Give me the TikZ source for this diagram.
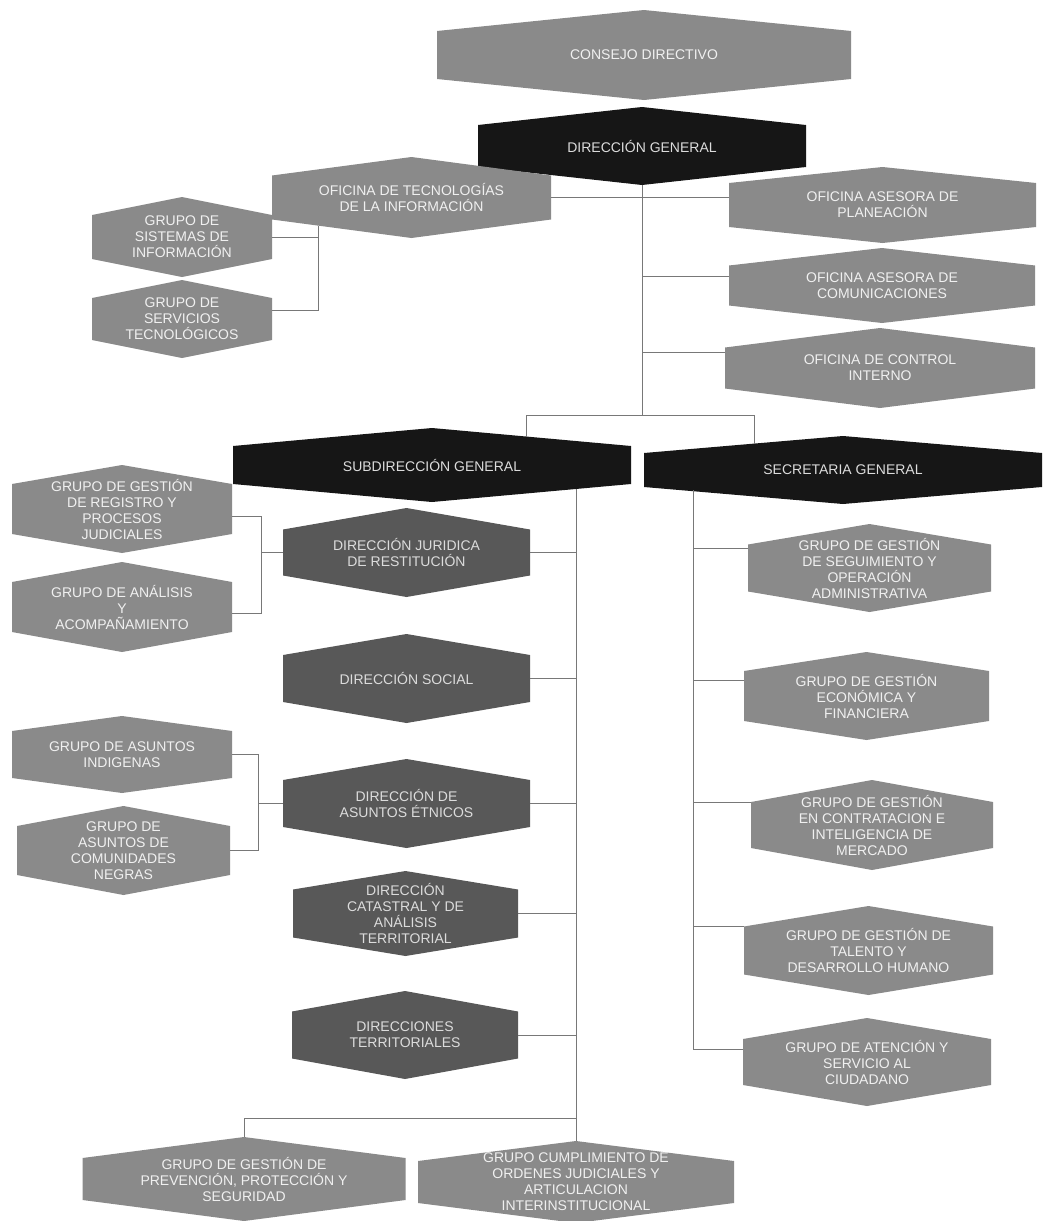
\documentclass[tikz,border=0pt]{standalone}
\usepackage{fontspec}
\setmainfont{Liberation Sans}
\usetikzlibrary{calc}
\definecolor{cL}{RGB}{138,138,138}
\definecolor{cD}{RGB}{88,88,88}
\definecolor{cB}{RGB}{22,22,22}
\definecolor{tL}{RGB}{240,240,240}
\definecolor{tD}{RGB}{220,220,220}
\definecolor{ln}{RGB}{120,120,120}
\newcommand\hexnode[9]{%
  \fill[#7] ({#2-#4},{#3-#6}) -- (#2,{#3-#5}) -- ({#2+#4},{#3-#6}) -- ({#2+#4},{#3+#6}) -- (#2,{#3+#5}) -- ({#2-#4},{#3+#6}) -- cycle;
  \node[lab,text=#8,minimum width=2*#4pt,minimum height=2*#5pt] (#1) at (#2,#3) {#9};
}
\tikzset{
  lab/.style={inner sep=0pt, align=center, font=\fontsize{14}{16}\selectfont},
  conn/.style={draw=ln, line width=0.8pt}
}
\begin{document}
\begin{tikzpicture}[x=1pt,y=-1pt]
\fill[white] (0,0) rectangle (1042,1221);
\useasboundingbox (0,0) rectangle (1042,1221);

% top
\hexnode{consejo}{644}{55}{207}{45}{24}{cL}{tL}{CONSEJO DIRECTIVO}
\hexnode{dg}{642}{146}{164}{39}{21}{cB}{tD}{DIRECCIÓN GENERAL}
\hexnode{otec}{411.5}{197.5}{139.5}{40.5}{22}{cL}{tL}{OFICINA DE TECNOLOGÍAS\\DE LA INFORMACIÓN}
\hexnode{gsis}{182}{237}{90}{40}{22}{cL}{tL}{GRUPO DE\\SISTEMAS DE\\INFORMACIÓN}
\hexnode{gserv}{182}{319}{90}{39}{21}{cL}{tL}{GRUPO DE\\SERVICIOS\\TECNOLÓGICOS}
\hexnode{oplan}{882.5}{205}{153.5}{38}{22}{cL}{tL}{OFICINA ASESORA DE\\PLANEACIÓN}
\hexnode{ocom}{882}{285.5}{153}{37.5}{20}{cL}{tL}{OFICINA ASESORA DE\\COMUNICACIONES}
\hexnode{ocon}{880}{368}{155}{40}{20.5}{cL}{tL}{OFICINA DE CONTROL\\INTERNO}

% second level
\hexnode{subdir}{432}{465}{199}{37}{19}{cB}{tD}{SUBDIRECCIÓN GENERAL}
\hexnode{secgen}{843}{470}{199}{34}{17}{cB}{tD}{SECRETARIA GENERAL}

% subdireccion column
\hexnode{djur}{406.5}{552.5}{123.5}{44.5}{23}{cD}{tD}{DIRECCIÓN JURIDICA\\DE RESTITUCIÓN}
\hexnode{dsoc}{406.5}{678.5}{123.5}{44.5}{23.5}{cD}{tD}{DIRECCIÓN SOCIAL}
\hexnode{detn}{406.5}{803.5}{123.5}{44.5}{23.5}{cD}{tD}{DIRECCIÓN DE\\ASUNTOS ÉTNICOS}
\hexnode{dcat}{405.5}{913.5}{112.5}{42.5}{24}{cD}{tD}{DIRECCIÓN\\CATASTRAL Y DE\\ANÁLISIS\\TERRITORIAL}
\hexnode{dter}{405}{1035}{113}{44}{23.5}{cD}{tD}{DIRECCIONES\\TERRITORIALES}

% left groups
\hexnode{greg}{122}{509}{110}{44}{25}{cL}{tL}{GRUPO DE GESTIÓN\\DE REGISTRO Y\\PROCESOS\\JUDICIALES}
\hexnode{gana}{122}{607}{110}{45}{25}{cL}{tL}{GRUPO DE ANÁLISIS\\Y\\ACOMPAÑAMIENTO}
\hexnode{gind}{122}{754.5}{110}{38.5}{23.5}{cL}{tL}{GRUPO DE ASUNTOS\\INDIGENAS}
\hexnode{gneg}{123.5}{850.5}{106.5}{44.5}{24.5}{cL}{tL}{GRUPO DE\\ASUNTOS DE\\COMUNIDADES\\NEGRAS}

% secretaria groups
\hexnode{gseg}{869.5}{568}{121.5}{44}{23.5}{cL}{tL}{GRUPO DE GESTIÓN\\DE SEGUIMIENTO Y\\OPERACIÓN\\ADMINISTRATIVA}
\hexnode{geco}{866.5}{696}{122.5}{44}{25}{cL}{tL}{GRUPO DE GESTIÓN\\ECONÓMICA Y\\FINANCIERA}
\hexnode{gcon}{872}{825}{121}{45}{23}{cL}{tL}{GRUPO DE GESTIÓN\\EN CONTRATACION E\\INTELIGENCIA DE\\MERCADO}
\hexnode{gtal}{868.5}{950.5}{124.5}{44.5}{24}{cL}{tL}{GRUPO DE GESTIÓN DE\\TALENTO Y\\DESARROLLO HUMANO}
\hexnode{gate}{867}{1062}{124}{44}{23}{cL}{tL}{GRUPO DE ATENCIÓN Y\\SERVICIO AL\\CIUDADANO}

% bottom
\hexnode{gprev}{244}{1179}{161.5}{42}{21}{cL}{tL}{GRUPO DE GESTIÓN DE\\PREVENCIÓN, PROTECCIÓN Y\\SEGURIDAD}
\hexnode{gcum}{576}{1182}{158}{41}{21}{cL}{tL}{GRUPO CUMPLIMIENTO DE\\ORDENES JUDICIALES Y\\ARTICULACION\\INTERINSTITUCIONAL}

% junction coordinates
\coordinate (hub) at (642,415);
\coordinate (sL) at (526,436.5);
\coordinate (sR) at (754,443.6);
\coordinate (otecb) at (318,225.6);
\coordinate (sbt) at (576,489);
\coordinate (bj) at (576,1118);
\coordinate (lj1) at (261,552.5);
\coordinate (lj2) at (258,803.5);
\coordinate (sgb) at (693,490.4);

% top connectors
\draw[conn] (dg.south) -- (hub);
\draw[conn] (sL) |- (hub);
\draw[conn] (sR) |- (hub);
\draw[conn] (otec.east) -- (otec.east -| oplan.west);
\draw[conn] ([yshift=9.5pt]ocom.west) -- ([yshift=9.5pt]ocom.west -| hub);
\draw[conn] ([yshift=16pt]ocon.west) -- ([yshift=16pt]ocon.west -| hub);
\draw[conn] (gsis.east) -- (gsis.east -| otecb);
\draw[conn] (otecb) |- ([yshift=9pt]gserv.east);

% subdireccion bus
\draw[conn] (sbt) -- (gcum.north);
\foreach \n in {djur,dsoc,detn,dcat,dter} \draw[conn] (\n.east) -- (\n.east -| sbt);
\draw[conn] (gprev.north) |- (bj);

% left groups
\draw[conn] (djur.west) -- (lj1);
\draw[conn] ([yshift=-7pt]greg.east) -| (lj1);
\draw[conn] ([yshift=-6pt]gana.east) -| (lj1);
\draw[conn] (detn.west) -- (lj2);
\draw[conn] (gind.east) -| (lj2);
\draw[conn] (gneg.east) -| (lj2);

% secretaria bus
\draw[conn] (sgb) |- ([yshift=13pt]gate.west);
\draw[conn] ([yshift=20pt]gseg.west) -- ([yshift=20pt]gseg.west -| sgb);
\draw[conn] ([yshift=16pt]geco.west) -- ([yshift=16pt]geco.west -| sgb);
\draw[conn] ([yshift=23pt]gcon.west) -- ([yshift=23pt]gcon.west -| sgb);
\draw[conn] ([yshift=24pt]gtal.west) -- ([yshift=24pt]gtal.west -| sgb);
\end{tikzpicture}
\end{document}
